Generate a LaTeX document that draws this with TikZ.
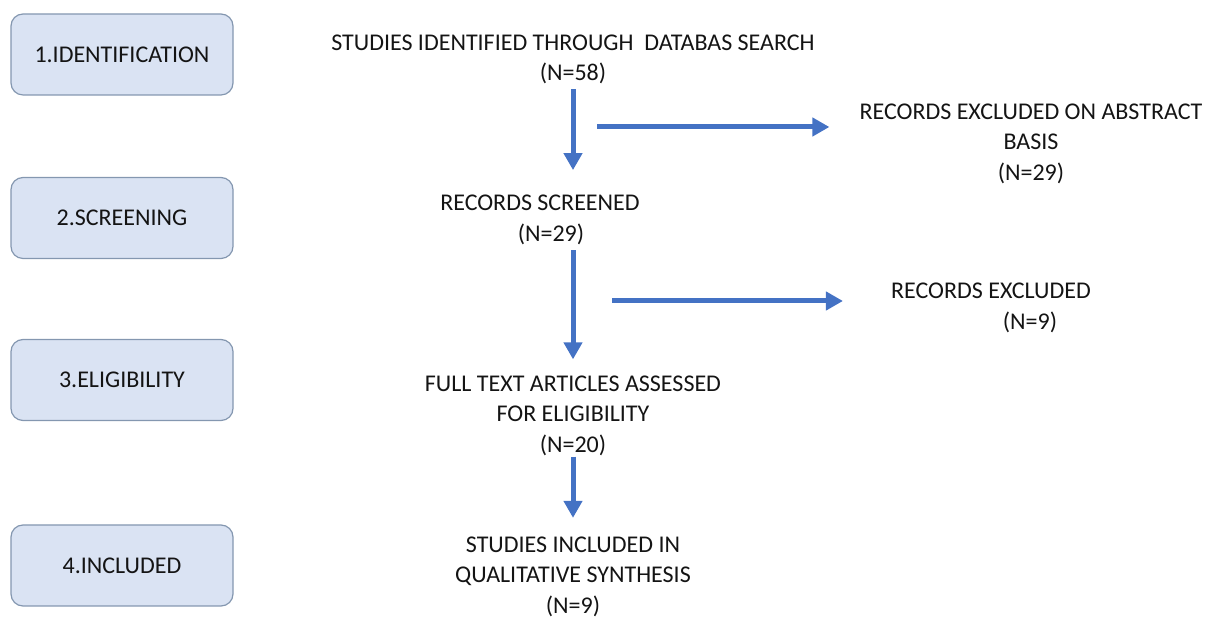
\documentclass[tikz,border=0pt]{standalone}
\usepackage{fontspec}
\setmainfont{Carlito}
\usetikzlibrary{arrows.meta,calc}
\definecolor{boxfill}{HTML}{DAE3F3}
\definecolor{boxdraw}{HTML}{8497B0}
\definecolor{arrowblue}{HTML}{4472C4}
\definecolor{txt}{HTML}{141414}
\tikzset{
  stage/.style={draw=boxdraw, line width=1.2pt, fill=boxfill, rounded corners=12pt,
    minimum width=222pt, minimum height=81pt, inner sep=0pt, text=txt,
    font=\fontsize{24}{30.5}\selectfont},
  flowtext/.style={align=center, inner sep=0pt, text=txt, font=\fontsize{24}{30.5}\selectfont},
  flowarrow/.style={draw=arrowblue, line width=5pt, -{Triangle[width=18pt,length=17pt]}}
}
\begin{document}
\begin{tikzpicture}[x=1pt,y=1pt]
\useasboundingbox (0,0) rectangle (1209,617);
% stage boxes
\node[stage] (s1) at (122,562.5) {1.IDENTIFICATION};
\node[stage] (s2) at (122,399) {2.SCREENING};
\node[stage] (s3) at (122,237) {3.ELIGIBILITY};
\node[stage] (s4) at (122,51.5) {4.INCLUDED};
% flow text
\node[flowtext] (n1) at (573,557.5) {STUDIES IDENTIFIED THROUGH\ \ DATABAS SEARCH\\(N=58)};
\node[flowtext] (ex1) at (1031,473.5) {RECORDS EXCLUDED ON ABSTRACT\\BASIS\\(N=29)};
\node[flowtext] (n2) at (540,397) {RECORDS SCREENED\\\hspace*{22pt}(N=29)};
\node[flowtext] (ex2) at (991,309) {RECORDS EXCLUDED\\\hspace*{78pt}(N=9)};
\node[flowtext] (n3) at (573,201.5) {FULL TEXT ARTICLES ASSESSED\\FOR ELIGIBILITY\\(N=20)};
\node[flowtext] (n4) at (573,40.5) {STUDIES INCLUDED IN\\QUALITATIVE SYNTHESIS\\(N=9)};
% horizontal arrow starts
\coordinate (h1s) at (597,490);
\coordinate (h2s) at (612,316);
% arrows
\draw[flowarrow, shorten <=5pt, shorten >=25pt] (n1.south) -- (n1.south |- n2.north);
\draw[flowarrow, shorten <=5.5pt, shorten >=16pt] (n2.south -| n3.north) -- (n3.north);
\draw[flowarrow, shorten <=1pt, shorten >=18.5pt] (n3.south) -- (n4.north);
\draw[flowarrow] (h1s) -- ($(h1s -| ex1.west)+(-30,0)$);
\draw[flowarrow] (h2s) -- ($(h2s -| ex2.west)+(-48,0)$);
\end{tikzpicture}
\end{document}
